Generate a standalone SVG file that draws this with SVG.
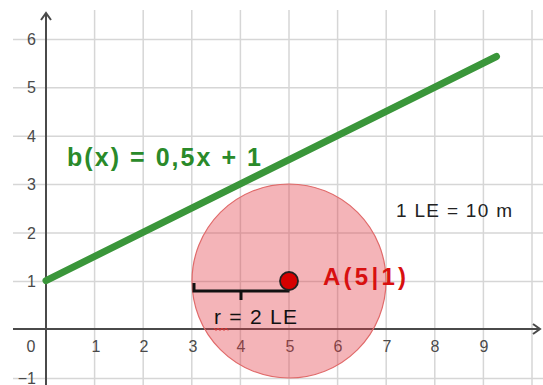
<svg xmlns="http://www.w3.org/2000/svg" width="543" height="385" viewBox="0 0 543 385">
<style>
.grid line{stroke:#d6d6d6;stroke-width:1.5}
.axis{stroke:#4a4a4a;stroke-width:2;fill:none}
.tick{font-family:"Liberation Sans",Arial,sans-serif;font-size:16px;fill:#4a4a4a}
.ty{text-anchor:end}
.tx{text-anchor:middle}
</style>
<rect width="543" height="385" fill="#fff"/>
<g class="grid">
<line x1="94.6" y1="10" x2="94.6" y2="385"/>
<line x1="143.2" y1="10" x2="143.2" y2="385"/>
<line x1="191.8" y1="10" x2="191.8" y2="385"/>
<line x1="240.4" y1="10" x2="240.4" y2="385"/>
<line x1="289" y1="10" x2="289" y2="385"/>
<line x1="337.6" y1="10" x2="337.6" y2="385"/>
<line x1="386.2" y1="10" x2="386.2" y2="385"/>
<line x1="434.8" y1="10" x2="434.8" y2="385"/>
<line x1="483.4" y1="10" x2="483.4" y2="385"/>
<line x1="532" y1="10" x2="532" y2="385"/>
<line x1="13" y1="39.4" x2="543" y2="39.4"/>
<line x1="13" y1="87.8" x2="543" y2="87.8"/>
<line x1="13" y1="136.2" x2="543" y2="136.2"/>
<line x1="13" y1="184.6" x2="543" y2="184.6"/>
<line x1="13" y1="233" x2="543" y2="233"/>
<line x1="13" y1="281.4" x2="543" y2="281.4"/>
<line x1="13" y1="378.4" x2="543" y2="378.4"/>
</g>
<g id="axes">
<line class="axis" x1="46" y1="385" x2="46" y2="13"/>
<polyline class="axis" points="41,20 46,13 51,20"/>
<line class="axis" x1="13" y1="329" x2="540" y2="329"/>
<polyline class="axis" points="533,324 540,329 533,334"/>
</g>
<g id="ticks">
<text class="tick ty" x="36" y="45">6</text>
<text class="tick ty" x="36" y="93.4">5</text>
<text class="tick ty" x="36" y="141.8">4</text>
<text class="tick ty" x="36" y="190.2">3</text>
<text class="tick ty" x="36" y="238.6">2</text>
<text class="tick ty" x="36" y="287">1</text>
<text class="tick ty" x="36" y="384">−1</text>
<text class="tick tx" x="31" y="352">0</text>
<text class="tick tx" x="96" y="352">1</text>
<text class="tick tx" x="144" y="352">2</text>
<text class="tick tx" x="193" y="352">3</text>
<text class="tick tx" x="241" y="352">4</text>
<text class="tick tx" x="290" y="352">5</text>
<text class="tick tx" x="338" y="352">6</text>
<text class="tick tx" x="387" y="352">7</text>
<text class="tick tx" x="435" y="352">8</text>
<text class="tick tx" x="484" y="352">9</text>
</g>
<g id="circle">
<circle cx="289" cy="281" r="97" fill="#e23a44" fill-opacity="0.38" stroke="#e06a6a" stroke-width="1.2"/>
</g>
<g id="line-b">
<line x1="46" y1="280.6" x2="496.5" y2="56.5" stroke="#3a963a" stroke-width="7" stroke-linecap="round"/>
</g>
<g id="label-b">
<text x="67" y="166" font-family="'Liberation Sans',Arial,sans-serif" font-size="25" font-weight="bold" fill="#2a8a2a" textLength="194" lengthAdjust="spacing">b(x) = 0,5x + 1</text>
</g>
<g id="connectors">
<polyline points="194,283 194,291 288,291 288,283" fill="none" stroke="#111" stroke-width="3"/>
<line x1="241" y1="291" x2="241" y2="300" stroke="#111" stroke-width="3"/>
</g>
<g id="point-A">
<circle cx="289" cy="281" r="9" fill="#d60000" stroke="#222" stroke-width="1.8"/>
<text x="323" y="285" font-family="'Liberation Sans',Arial,sans-serif" font-size="24" font-weight="bold" fill="#d81010" textLength="83" lengthAdjust="spacing">A(5|1)</text>
</g>
<g id="label-r">
<text x="214" y="324" font-family="'Liberation Sans',Arial,sans-serif" font-size="21" fill="#111" textLength="83" lengthAdjust="spacing">r = 2 LE</text>
<path d="M214,328 l2,2.5 l2,-2.5 l2,2.5 l2,-2.5 l2,2.5 l2,-2.5 l2,2.5" fill="none" stroke="#e03030" stroke-width="1"/>
</g>
<g id="label-scale">
<text x="396" y="217" font-family="'Liberation Sans',Arial,sans-serif" font-size="19" fill="#222" textLength="116" lengthAdjust="spacing">1 LE = 10 m</text>
</g>
</svg>
